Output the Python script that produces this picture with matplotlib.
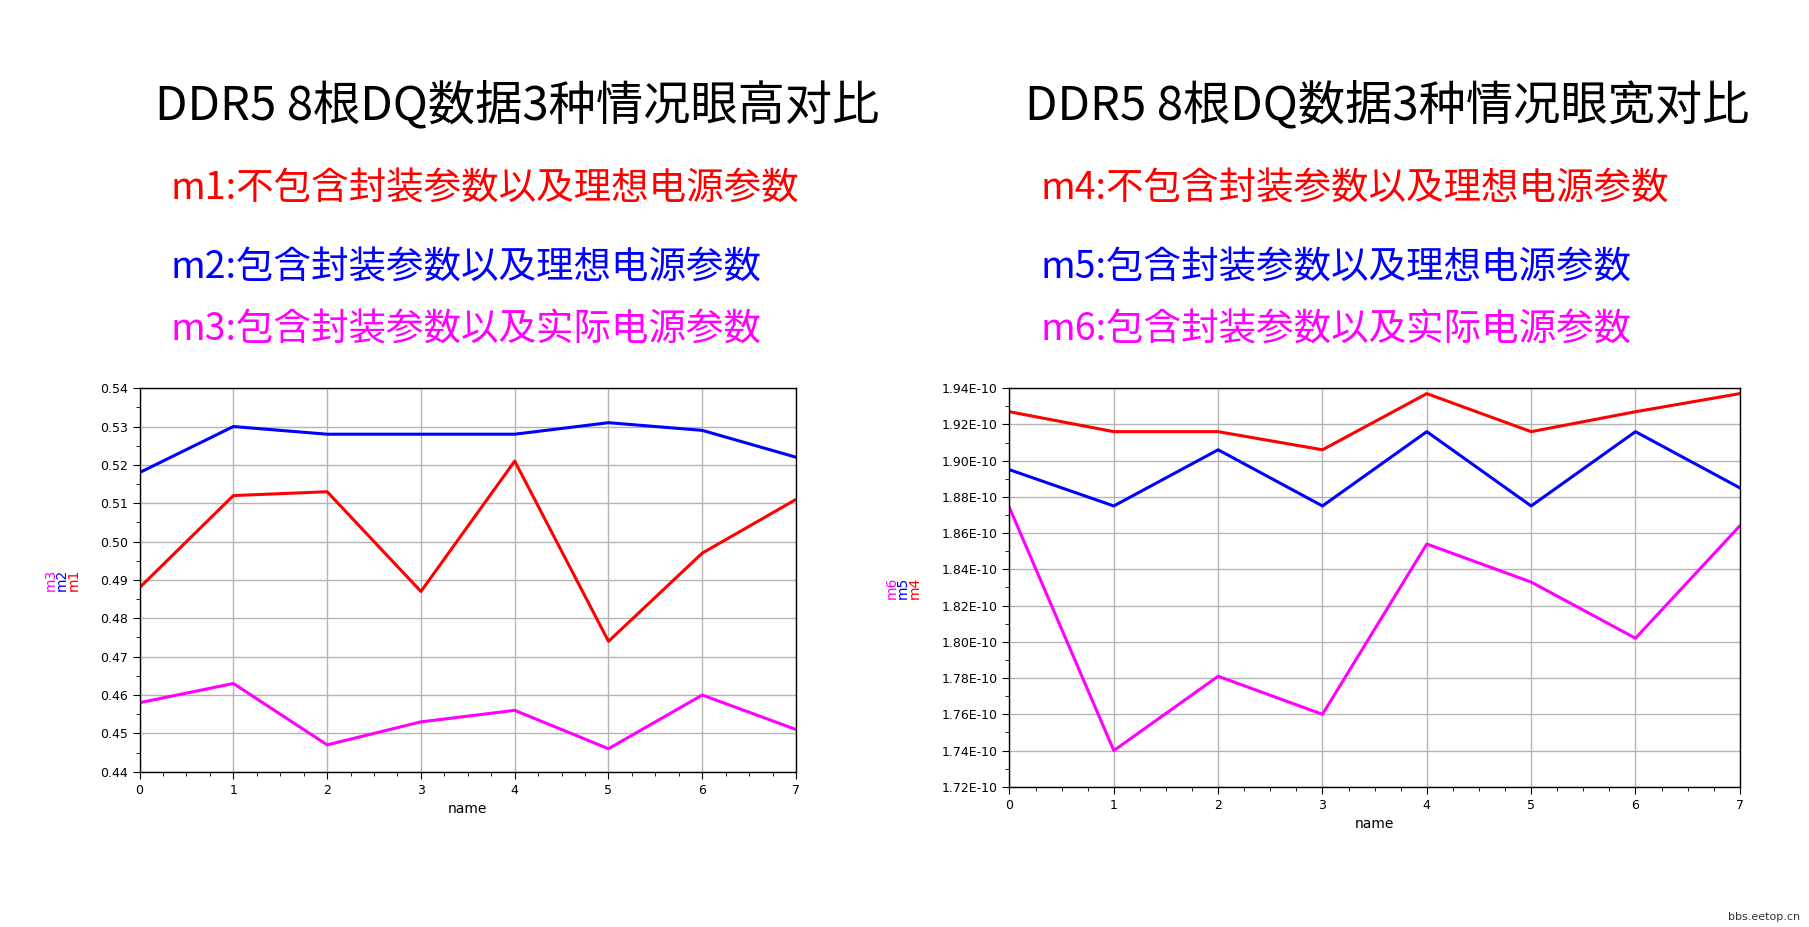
import matplotlib
matplotlib.use("Agg")
import matplotlib.pyplot as plt
from matplotlib import font_manager as fm
from matplotlib.ticker import MultipleLocator, FuncFormatter

x = list(range(8))
m1 = [0.488, 0.512, 0.513, 0.487, 0.521, 0.474, 0.497, 0.511]
m2 = [0.518, 0.530, 0.528, 0.528, 0.528, 0.531, 0.529, 0.522]
m3 = [0.458, 0.463, 0.447, 0.453, 0.456, 0.446, 0.460, 0.451]
m4 = [1.927e-10, 1.916e-10, 1.916e-10, 1.906e-10, 1.937e-10, 1.916e-10, 1.927e-10, 1.937e-10]
m5 = [1.895e-10, 1.875e-10, 1.906e-10, 1.875e-10, 1.916e-10, 1.875e-10, 1.916e-10, 1.885e-10]
m6 = [1.874e-10, 1.740e-10, 1.781e-10, 1.760e-10, 1.854e-10, 1.833e-10, 1.802e-10, 1.864e-10]

titles = ["DDR5 8根DQ数据3种情况眼高对比", "DDR5 8根DQ数据3种情况眼宽对比"]
subs_l = ["m1:不包含封装参数以及理想电源参数", "m2:包含封装参数以及理想电源参数", "m3:包含封装参数以及实际电源参数"]
subs_r = ["m4:不包含封装参数以及理想电源参数", "m5:包含封装参数以及理想电源参数", "m6:包含封装参数以及实际电源参数"]
colors = ["#ff0000", "#0000ff", "#ff00ff"]

# locate a CJK font
cjk_names = []
for f in fm.findSystemFonts():
    if "CJK" in f or "cjk" in f.lower():
        try:
            fm.fontManager.addfont(f)
            n = fm.FontProperties(fname=f).get_name()
            if n not in cjk_names:
                cjk_names.append(n)
        except Exception:
            pass
pref = [n for n in ["Noto Sans CJK SC", "Noto Sans CJK JP", "Noto Sans CJK TC", "Noto Sans CJK KR"]]
avail = {f.name for f in fm.fontManager.ttflist}
fam = [n for n in pref if n in avail] + cjk_names + ["DejaVu Sans"]
plt.rcParams["font.family"] = ["DejaVu Sans"]
cjk = fam

W, H = 1568, 800
fig = plt.figure(figsize=(18.09, 9.27), dpi=100)

def fx(p): return p / W
def fy(p): return 1 - p / H

fig.text(fx(448), fy(92), titles[0], fontsize=34, family=cjk, ha="center", va="center")
fig.text(fx(1202), fy(92), titles[1], fontsize=34, family=cjk, ha="center", va="center")
for i, (sl, sr) in enumerate(zip(subs_l, subs_r)):
    yy = [163, 231, 285][i]
    fig.text(fx(148), fy(yy), sl, fontsize=27, family=cjk, color=colors[i], ha="left", va="center")
    fig.text(fx(902), fy(yy), sr, fontsize=27, family=cjk, color=colors[i], ha="left", va="center")

def make_ax(l, t, r, b, series, names, ylim, major, minor, fmt, lab_x):
    ax = fig.add_axes([fx(l), fy(b), fx(r - l), (b - t) / H])
    for s, c in zip(series, colors):
        ax.plot(x, s, color=c, lw=2.2)
    ax.set_xlim(0, 7)
    ax.set_ylim(*ylim)
    ax.yaxis.set_major_locator(MultipleLocator(major))
    ax.yaxis.set_minor_locator(MultipleLocator(minor))
    ax.xaxis.set_major_locator(MultipleLocator(1))
    ax.xaxis.set_minor_locator(MultipleLocator(0.25))
    ax.yaxis.set_major_formatter(FuncFormatter(fmt))
    ax.grid(True, which="major", color="#b4b4b4", lw=1)
    ax.tick_params(labelsize=9, direction="out", length=5)
    ax.tick_params(which="minor", length=3)
    ax.set_xlabel("name", fontsize=10)
    for sp in ax.spines.values():
        sp.set_linewidth(1)
    xm = fx(lab_x)
    ymid = fy((t + b) / 2)
    for k, (n, c) in enumerate(zip(names, colors)):
        fig.text(xm - k * 0.0065, ymid, n, rotation=90, color=c, fontsize=10, ha="center", va="center")
    return ax

make_ax(121, 335, 690, 666, [m1, m2, m3], ["m1", "m2", "m3"], (0.44, 0.54), 0.01, 0.005,
        lambda v, p: f"{v:.2f}", 64)
make_ax(875, 335, 1508, 679, [m4, m5, m6], ["m4", "m5", "m6"], (1.72e-10, 1.94e-10), 0.02e-10, 0.01e-10,
        lambda v, p: f"{v*1e10:.2f}E-10", 793)

fig.text(fx(1560), fy(791), "bbs.eetop.cn", fontsize=8, color="#333333", ha="right", va="center")
fig.savefig("out.png", dpi=100)
